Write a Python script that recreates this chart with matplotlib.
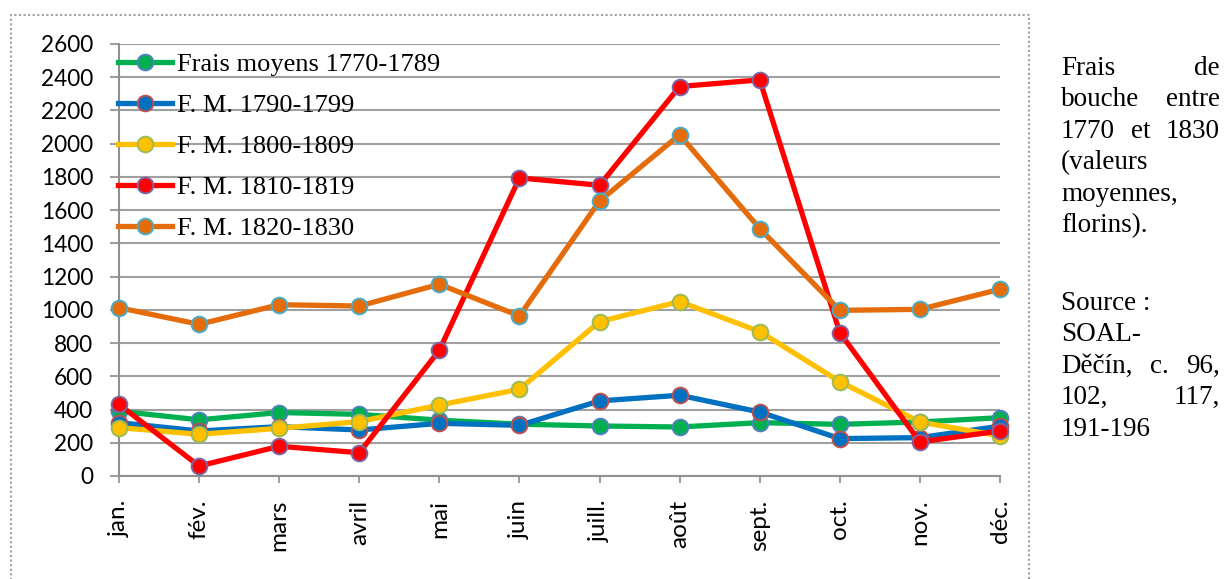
import matplotlib
matplotlib.use("Agg")
import matplotlib.pyplot as plt
from matplotlib.lines import Line2D

# ---------------- data ----------------
months = ["jan.", "fév.", "mars", "avril", "mai", "juin", "juill.", "août",
          "sept.", "oct.", "nov.", "déc."]
fm_1770_1789 = [390, 338, 382, 371, 336, 312, 301, 295, 321, 311, 325, 351]
fm_1790_1799 = [321, 271, 297, 277, 317, 305, 452, 486, 385, 225, 231, 300]
fm_1800_1809 = [291, 251, 287, 327, 427, 522, 929, 1050, 869, 568, 325, 241]
fm_1810_1819 = [431, 60, 179, 140, 757, 1794, 1750, 2344, 2384, 863, 205, 271]
fm_1820_1830 = [1013, 913, 1031, 1023, 1154, 963, 1655, 2054, 1489, 997, 1003, 1124]
series_labels = ["Frais moyens 1770-1789", "F. M. 1790-1799", "F. M. 1800-1809",
                 "F. M. 1810-1819", "F. M. 1820-1830"]
yticks = list(range(0, 2601, 200))
para1 = [["Frais", "de"], ["bouche", "entre"], ["1770", "et", "1830"],
         ["(valeurs"], ["moyennes,"], ["florins)."]]
para2 = [["Source :"], ["SOAL-"], ["Děčín,", "c.", "96,"], ["102,", "117,"],
         ["191-196"]]
just1 = [True, True, True, False, False, False]
just2 = [False, False, True, True, False]

series = [fm_1770_1789, fm_1790_1799, fm_1800_1809, fm_1810_1819, fm_1820_1830]
line_colors = ["#00B050", "#0070C0", "#FFC000", "#FF0000", "#E46C0A"]
edge_colors = ["#4F81BD", "#C0504D", "#9BBB59", "#8064A2", "#4BACC6"]

W, H = 1225, 579
fig = plt.figure(figsize=(W / 100, H / 100), dpi=100)

def fx(px):
    return px / W

def fy(py):
    return 1 - py / H

ax = fig.add_axes([fx(119), fy(476), fx(1000) - fx(119), fy(44) - fy(476)])
x = list(range(len(months)))
handles = []
for i, (vals, lc, ec, lab) in enumerate(zip(series, line_colors, edge_colors, series_labels)):
    h, = ax.plot(x, vals, color=lc, lw=3.8, marker="o", ms=11.3,
                 markerfacecolor=lc, markeredgecolor=ec, markeredgewidth=1.4,
                 clip_on=False, zorder=3 + i, label=lab)
    handles.append(h)

ax.set_xlim(0, 11)
ax.set_ylim(0, 2600)
ax.set_yticks(yticks)
ax.set_xticks(x)
ax.set_xticklabels(months, rotation=90, family="Lato", fontsize=17.5)
ax.set_yticklabels([str(v) for v in yticks], family="Lato", fontsize=16.3)
ax.set_axisbelow(True)
ax.grid(axis="y", color="#A0A0A0", lw=1.5)
ax.grid(axis="x", visible=False)
for s in ["top", "right"]:
    ax.spines[s].set_visible(False)
for s in ["left", "bottom"]:
    ax.spines[s].set_color("#909090")
    ax.spines[s].set_linewidth(1.5)
ax.tick_params(axis="y", length=6.5, width=1.5, color="#A0A0A0", pad=12)
ax.tick_params(axis="x", length=5, width=1.5, color="#A0A0A0", pad=12)

leg = ax.legend(handles=handles, loc="upper left",
                bbox_to_anchor=(fx(118), fy(53)), bbox_transform=fig.transFigure,
                frameon=False, borderpad=0, borderaxespad=0,
                handlelength=2.05, handletextpad=0.2, labelspacing=0.66,
                prop={"family": "Liberation Serif", "size": 19})
leg.set_zorder(20)

# dotted border of the chart area
bc = "#A0A0A0"
fig.add_artist(Line2D([fx(11), fx(11), fx(1029), fx(1029)],
                      [fy(590), fy(15), fy(15), fy(590)],
                      transform=fig.transFigure, color=bc, lw=1.5,
                      linestyle=(0, (1, 1.2))))

# side text (justified)
x0, x1 = 1061, 1220
step = 31.4
fig.canvas.draw()
renderer = fig.canvas.get_renderer()

def draw_para(lines, just, base0):
    for li, words in enumerate(lines):
        yb = base0 + li * step
        texts = [fig.text(fx(x0), fy(yb), w, family="Liberation Serif", fontsize=19.5,
                          va="baseline", ha="left") for w in words]
        if just[li] and len(words) > 1:
            widths = [t.get_window_extent(renderer).width for t in texts]
            gap = (x1 - x0 - sum(widths)) / (len(words) - 1)
            pos = x0
            for t, wd in zip(texts, widths):
                t.set_x(fx(pos))
                pos += wd + gap

draw_para(para1, just1, 75)
draw_para(para2, just2, 310)

fig.savefig("out.png", dpi=100)
